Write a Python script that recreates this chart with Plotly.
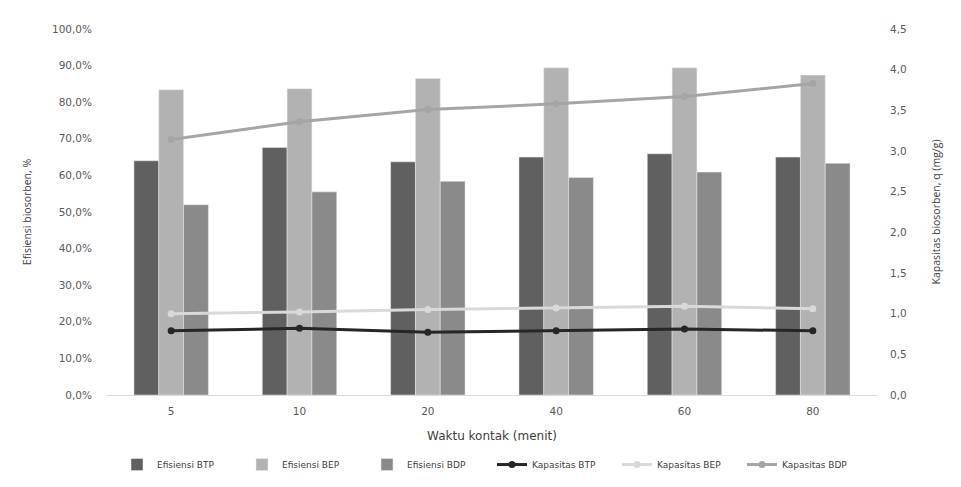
import plotly.graph_objects as go

categories = ["5", "10", "20", "40", "60", "80"]
efisiensi_btp = [0.640, 0.676, 0.637, 0.650, 0.659, 0.650]
efisiensi_bep = [0.834, 0.837, 0.865, 0.894, 0.894, 0.874]
efisiensi_bdp = [0.520, 0.555, 0.584, 0.594, 0.609, 0.633]
kapasitas_btp = [0.79, 0.82, 0.77, 0.79, 0.81, 0.79]
kapasitas_bep = [1.00, 1.02, 1.05, 1.07, 1.09, 1.06]
kapasitas_bdp = [3.14, 3.36, 3.51, 3.58, 3.67, 3.83]

tick_font = dict(family="DejaVu Sans", size=10.5, color="#595959")

fig = go.Figure()
fig.add_trace(go.Bar(x=categories, y=efisiensi_btp, name="Efisiensi BTP", marker_color="#606060"))
fig.add_trace(go.Bar(x=categories, y=efisiensi_bep, name="Efisiensi BEP", marker_color="#b2b2b2"))
fig.add_trace(go.Bar(x=categories, y=efisiensi_bdp, name="Efisiensi BDP", marker_color="#8a8a8a"))
fig.add_trace(go.Scatter(x=categories, y=kapasitas_btp, name="Kapasitas BTP", yaxis="y2",
                         mode="lines+markers", line=dict(color="#262626", width=3),
                         marker=dict(size=7, color="#262626")))
fig.add_trace(go.Scatter(x=categories, y=kapasitas_bep, name="Kapasitas BEP", yaxis="y2",
                         mode="lines+markers", line=dict(color="#d9d9d9", width=3),
                         marker=dict(size=7, color="#d9d9d9")))
fig.add_trace(go.Scatter(x=categories, y=kapasitas_bdp, name="Kapasitas BDP", yaxis="y2",
                         mode="lines+markers", line=dict(color="#a5a5a5", width=3),
                         marker=dict(size=7, color="#a5a5a5")))

fig.update_layout(
    width=961, height=487,
    margin=dict(l=107, r=84, t=29, b=92, autoexpand=False),
    paper_bgcolor="white", plot_bgcolor="white",
    separators=",.",
    barmode="group", bargap=0.42, bargroupgap=0,
    font=dict(family="DejaVu Sans", color="#595959"),
    xaxis=dict(
        type="category", showgrid=False, showline=True, linecolor="#d9d9d9", linewidth=1,
        ticks="", tickfont=tick_font, ticklabelstandoff=6, automargin=False,
        title=dict(text="Waktu kontak (menit)", font=dict(family="DejaVu Sans", size=12, color="#404040"),
                   standoff=16),
    ),
    yaxis=dict(
        range=[0, 1.0], dtick=0.1, tickformat=".1%", showgrid=False, zeroline=False,
        showline=False, tickfont=tick_font, ticklabelstandoff=14, automargin=False,
        title=dict(text="Efisiensi biosorben, %", font=dict(family="Open Sans", size=10.5, color="#404040"),
                   standoff=18),
    ),
    yaxis2=dict(
        range=[0, 4.5], dtick=0.5, tickformat=".1f", overlaying="y", side="right",
        showgrid=False, zeroline=False, showline=False, tickfont=tick_font, ticklabelstandoff=12,
        automargin=False,
        title=dict(text="Kapasitas biosorben, q (mg/g)", font=dict(family="Open Sans", size=10.5, color="#404040"),
                   standoff=26),
    ),
    legend=dict(orientation="h", x=0.5, xanchor="center", y=-0.19, yanchor="middle",
                font=dict(family="DejaVu Sans", size=9, color="#404040"),
                entrywidth=80, entrywidthmode="pixels", traceorder="normal"),
    showlegend=True,
)

fig.write_html("out.html")
